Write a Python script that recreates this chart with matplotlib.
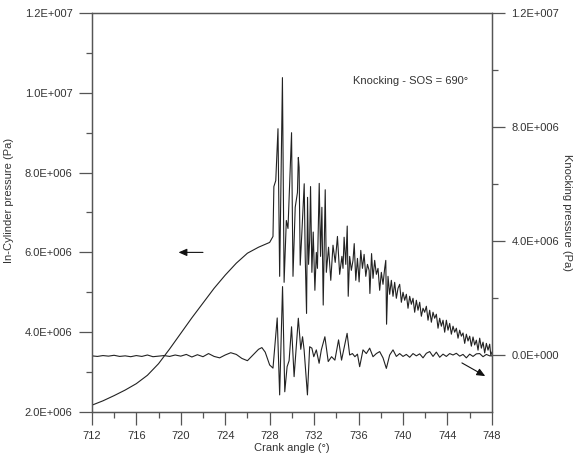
import numpy as np
import matplotlib
matplotlib.use("Agg")
import matplotlib.pyplot as plt
from matplotlib.ticker import FuncFormatter, MultipleLocator, FixedLocator

plt.rcParams['font.family'] = ['Liberation Sans', 'DejaVu Sans']

# in-cylinder pressure (MPa) vs crank angle (deg)
cyl_angle = [712, 713, 714, 715, 716, 717, 718, 719, 720, 721, 722, 723, 724,
             725, 726, 727, 728, 728.3, 728.38, 728.55, 728.75, 728.9, 729.15,
             729.3, 729.5, 729.65, 729.97, 730.1, 730.3, 730.5, 730.58, 730.65,
             730.75, 730.9, 731.11, 731.2, 731.32, 731.41, 731.5, 731.6, 731.68,
             731.8, 731.92, 732.07, 732.2, 732.3, 732.46, 732.58, 732.7, 732.82,
             733.0,
             733.1, 733.3, 733.5, 733.7, 733.9, 734.1, 734.3, 734.5, 734.6, 734.7,
             734.85, 734.98, 735.07, 735.2, 735.35, 735.5, 735.61, 735.75, 735.9,
             736.05, 736.2, 736.35, 736.5, 736.65, 736.8, 736.95, 737.02, 737.17,
             737.3, 737.45, 737.6, 737.75, 737.9, 738.05, 738.2, 738.35, 738.45,
             738.52, 738.65, 738.8, 738.95, 739.1, 739.25, 739.4, 739.55, 739.7,
             739.85, 740.0, 740.15, 740.3, 740.45, 740.6, 740.75, 740.9, 741.05,
             741.2, 741.35, 741.5, 741.65, 741.8, 741.95, 742.1, 742.25, 742.4,
             742.55, 742.7, 742.85, 743.0, 743.15, 743.3, 743.45, 743.6, 743.75,
             743.9, 744.05, 744.2, 744.35, 744.5, 744.65, 744.8, 744.95, 745.1,
             745.25, 745.4, 745.55, 745.7, 745.85, 746.0, 746.15, 746.3, 746.45,
             746.6, 746.75, 746.9, 747.05, 747.2, 747.35, 747.5, 747.65, 747.8,
             747.9, 748.0]
cyl_mpa = [2.17, 2.28, 2.41, 2.55, 2.71, 2.92, 3.21, 3.58, 3.97, 4.36, 4.73, 5.1,
           5.43, 5.73, 5.98, 6.13, 6.25, 6.4, 7.65, 7.8, 9.1, 5.4, 10.38,
           5.25, 6.8, 6.6, 9.0, 5.4, 7.13, 7.5, 8.38, 8.13,
           5.68, 6.5, 7.72, 5.9, 4.47, 7.38, 5.7, 6.3, 7.65,
           5.5, 6.51, 5.05, 6.0, 5.6, 7.73, 5.9, 7.13, 4.68,
           7.57,
           5.5, 6.13, 5.3, 6.18, 5.75, 6.4, 5.45, 5.9, 5.6, 6.38,
           5.7, 6.66, 4.9, 5.9, 5.55, 5.8, 6.22, 5.3, 5.85,
           5.26, 6.05, 5.6, 5.95, 5.4, 5.7, 5.55, 4.97, 5.97,
           5.35, 5.8, 5.45, 5.6, 5.05, 5.5, 5.2, 5.6, 5.8,
           4.2, 5.4, 4.95, 5.3, 4.9, 5.25, 4.85, 5.1, 5.2,
           4.75, 5.0, 4.8, 4.95, 4.6, 4.9, 4.7, 4.85, 4.5,
           4.8, 4.55, 4.75, 4.4, 4.6, 4.5, 4.65, 4.3, 4.55,
           4.25, 4.5, 4.35, 4.45, 4.1, 4.35, 4.15, 4.3, 4.0,
           4.3, 4.05, 4.22, 3.95, 4.15, 4.0, 4.1, 3.85, 4.05,
           3.9, 3.98, 3.72, 3.95, 3.78, 3.9, 3.65, 3.88, 3.68,
           3.8, 3.55, 3.85, 3.6, 3.75, 3.48, 3.72, 3.55, 3.7,
           3.42, 3.5]

# knocking pressure (MPa) vs crank angle (deg)
knock_angle = [712, 712.5, 713, 713.5, 714, 714.5, 715, 715.5, 716, 716.5, 717,
               717.5, 718, 718.5, 719, 719.5, 720, 720.5, 721, 721.5, 722, 722.5,
               723, 723.5, 724, 724.5, 725, 725.5, 726, 726.5, 727, 727.3, 727.6,
               728.0, 728.3, 728.68, 728.9, 729.16, 729.36, 729.57, 729.75,
               729.97, 730.2, 730.58, 730.8, 730.96, 731.1, 731.4, 731.6, 731.8,
               731.97, 732.2, 732.45, 732.65, 732.97, 733.27, 733.57, 733.87,
               734.2, 734.47, 734.97, 735.2, 735.45, 735.67, 735.9, 736.1, 736.4,
               736.7, 737.0, 737.3, 737.6, 737.9, 738.2, 738.5, 738.8, 739.1,
               739.4, 739.7, 740.0, 740.3, 740.6, 740.9, 741.2, 741.5, 741.8,
               742.1, 742.4, 742.7, 743.0, 743.3, 743.6, 743.9, 744.2, 744.5,
               744.8, 745.1, 745.4, 745.7, 746.0, 746.3, 746.6, 746.9, 747.2,
               747.5, 747.8, 748.0]
knock_mpa = [-0.03, -0.05, -0.02, -0.04, -0.01, -0.05, -0.03, -0.06, -0.02, -0.05,
             0.0, -0.06, -0.04, -0.02, -0.05, 0.0, -0.04, 0.02, -0.07, 0.01, -0.06,
             0.05, -0.05, -0.1, 0.0, 0.08, 0.02, -0.12, -0.2, 0.0, 0.2, 0.26, 0.1,
             -0.35, -0.46, 1.3, -1.4, 2.4, -1.29, -0.41, -0.2,
             0.99, -0.76, 1.29, 0.2, 0.64, 0.18, -1.4, 0.29, 0.24,
             -0.06, 0.18, -0.29, 0.18, 0.64, -0.23, -0.06, -0.18,
             0.53, -0.18, 0.76, 0.0, 0.05, -0.06, 0.03, -0.41, 0.18,
             0.05, 0.24, -0.06, 0.05, 0.12, -0.1, -0.47, 0.0, 0.18,
             -0.05, 0.05, -0.05, 0.02, -0.08, 0.05, -0.03, 0.04, -0.1,
             0.06, 0.12, -0.05, 0.1, -0.08, 0.03, -0.05, 0.05, 0.0,
             0.06, -0.04, 0.02, -0.1, 0.03, -0.05, 0.04, 0.05, -0.06,
             0.02, -0.03, -0.03]

left_ticks = [2e6, 4e6, 6e6, 8e6, 1e7, 1.2e7]
right_ticks = [0, 4e6, 8e6, 1.2e7]
x_ticks = [712, 716, 720, 724, 728, 732, 736, 740, 744, 748]

ink = '#333333'
line_col = '#222222'


def sci(v, pos=None):
    if v == 0:
        return '0.0E+000'
    e = int(np.floor(np.log10(abs(v))))
    m = v / 10 ** e
    return '%.1fE+%03d' % (m, e)


fig = plt.figure(figsize=(5.74, 4.59), dpi=100)
ax = fig.add_axes([0.160, 0.1024, 0.697, 0.8693])
ax2 = ax.twinx()

ax.plot(cyl_angle, np.array(cyl_mpa) * 1e6, color=line_col, lw=0.8)
ax2.plot(knock_angle, np.array(knock_mpa) * 1e6, color=line_col, lw=0.8)

ax.set_xlim(712, 748)
ax.set_ylim(2e6, 1.2e7)
ax2.set_ylim(-2e6, 1.2e7)

ax.set_xticks(x_ticks)
ax.xaxis.set_minor_locator(MultipleLocator(2))
ax.set_yticks(left_ticks)
ax.yaxis.set_minor_locator(MultipleLocator(1e6))
ax.yaxis.set_major_formatter(FuncFormatter(sci))
ax2.set_yticks(right_ticks)
ax2.yaxis.set_minor_locator(FixedLocator([2e6, 6e6, 1e7]))
ax2.yaxis.set_major_formatter(FuncFormatter(sci))

for a in (ax, ax2):
    for s in a.spines.values():
        s.set_color('#555555')
        s.set_linewidth(0.9)
    a.tick_params(which='major', direction='out', length=9.5, width=0.9,
                  color='#555555', labelsize=8, labelcolor=ink, pad=4.5)
    a.tick_params(which='minor', direction='out', length=4.3, width=0.9,
                  color='#555555')
ax.tick_params(axis='y', right=False)

ax.set_xlabel('Crank angle (°)', fontsize=8, color=ink, labelpad=1)
ax.set_ylabel('In-Cylinder pressure (Pa)', fontsize=8, color=ink)
ax.yaxis.set_label_coords(-0.195, 0.53)
ax2.set_ylabel('Knocking pressure (Pa)', fontsize=8, color=ink, rotation=270)
ax2.yaxis.set_label_coords(1.2, 0.5)

ax.text(740.7, 1.03e7, 'Knocking - SOS = 690°', fontsize=8, color=ink,
        ha='center', va='center')

arrow = dict(arrowstyle='-|>,head_length=0.5,head_width=0.22', color='#111111',
             lw=0.8, shrinkA=0, shrinkB=0)
ax.annotate('', xy=(719.8, 6.0e6), xytext=(722.0, 6.0e6), arrowprops=arrow)
ax.annotate('', xy=(747.4, 2.9e6), xytext=(745.3, 3.23e6), arrowprops=arrow)

fig.savefig('out.png', dpi=100)
